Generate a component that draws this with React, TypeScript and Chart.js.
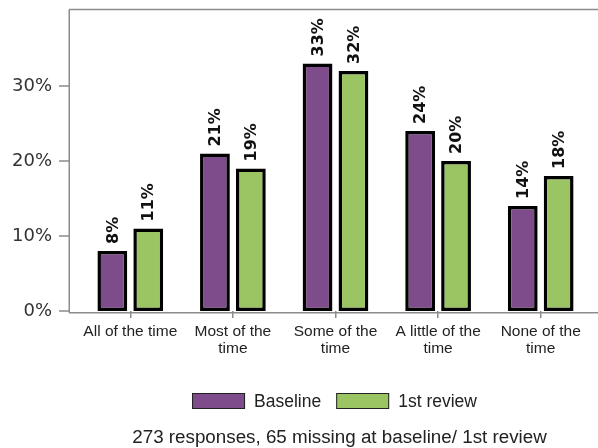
import React, { useEffect, useRef } from 'react';
import { Chart, registerables } from 'chart.js';

Chart.register(...registerables);

const categories: string[][] = [
  ['All of the time'],
  ['Most of the', 'time'],
  ['Some of the', 'time'],
  ['A little of the', 'time'],
  ['None of the', 'time'],
];
const seriesNames = ['Baseline', '1st review'];
const baselineValues = [8, 21, 33, 24, 14];
const firstReviewValues = [11, 19, 32, 20, 18];
const yTickValues = [0, 10, 20, 30];
const yMax = 40;
const footnote = '273 responses, 65 missing at baseline/ 1st review';

const PURPLE = '#7e4c8a';
const GREEN = '#9bc462';
const AXIS = '#8c8c8c';

const W = 598;
const H = 448;

const framePlugin = {
  id: 'frame',
  afterDatasetsDraw(chart: any) {
    const { ctx, chartArea, scales } = chart;
    const left = 69;
    ctx.save();
    ctx.strokeStyle = AXIS;
    ctx.lineWidth = 1.5;
    ctx.beginPath();
    ctx.moveTo(left + 0.25, chartArea.top - 1.5);
    ctx.lineTo(left + 0.25, chartArea.bottom + 1.75);
    ctx.moveTo(left, chartArea.top - 1.5);
    ctx.lineTo(W, chartArea.top - 1.5);
    ctx.moveTo(left, chartArea.bottom + 1.75);
    ctx.lineTo(W, chartArea.bottom + 1.75);
    yTickValues.forEach((v) => {
      const y = scales.y.getPixelForValue(v);
      ctx.moveTo(left - 10, y);
      ctx.lineTo(left, y);
    });
    ctx.stroke();

    // data labels
    chart.data.datasets.forEach((ds: any, di: number) => {
      const meta = chart.getDatasetMeta(di);
      meta.data.forEach((el: any, i: number) => {
        ctx.save();
        ctx.translate(el.x, el.y - 7);
        ctx.rotate(-Math.PI / 2);
        ctx.textAlign = 'left';
        ctx.textBaseline = 'middle';
        ctx.font = 'bold 16px "DejaVu Sans"';
        ctx.fillStyle = '#111';
        ctx.fillText(ds.data[i] + '%', 0, 1);
        ctx.restore();
      });
    });

    // legend
    const cx = (chartArea.left + chartArea.right) / 2;
    ctx.font = '17.5px "Liberation Sans"';
    const boxW = 53;
    const boxH = 16;
    const gapBoxText = 9;
    const gapItems = 15;
    const widths = chart.data.datasets.map((ds: any) => ctx.measureText(ds.label).width);
    let total = 0;
    widths.forEach((w: number, i: number) => {
      total += boxW + gapBoxText + w + (i > 0 ? gapItems : 0);
    });
    let x = cx - total / 2 - 1;
    const boxTop = 393;
    chart.data.datasets.forEach((ds: any, i: number) => {
      ctx.fillStyle = ds.backgroundColor;
      ctx.fillRect(x, boxTop, boxW, boxH);
      ctx.strokeStyle = '#222';
      ctx.lineWidth = 1;
      ctx.strokeRect(x + 0.5, boxTop + 0.5, boxW - 1, boxH - 1);
      ctx.fillStyle = '#222';
      ctx.textAlign = 'left';
      ctx.textBaseline = 'alphabetic';
      ctx.fillText(ds.label, x + boxW + gapBoxText, 407);
      x += boxW + gapBoxText + widths[i] + gapItems;
    });

    // footnote
    ctx.font = '18.8px "Liberation Sans"';
    ctx.fillStyle = '#222';
    ctx.textAlign = 'center';
    ctx.fillText(footnote, cx + 4, 443);
    ctx.restore();
  },
};

export default function App() {
  const ref = useRef<HTMLCanvasElement | null>(null);

  useEffect(() => {
    document.body.style.margin = '0';
    const canvas = ref.current;
    if (!canvas) return;
    const chart = new Chart(canvas, {
      type: 'bar',
      data: {
        labels: categories,
        datasets: [
          {
            label: seriesNames[0],
            data: baselineValues,
            backgroundColor: PURPLE,
            borderColor: '#000',
            borderWidth: 3.5,
            borderSkipped: false,
            categoryPercentage: 0.7,
            barPercentage: 0.83,
          },
          {
            label: seriesNames[1],
            data: firstReviewValues,
            backgroundColor: GREEN,
            borderColor: '#000',
            borderWidth: 3.5,
            borderSkipped: false,
            categoryPercentage: 0.7,
            barPercentage: 0.83,
          },
        ],
      },
      options: {
        animation: false,
        responsive: false,
        maintainAspectRatio: false,
        devicePixelRatio: 1,
        layout: { padding: { top: 11, right: 6, left: 0, bottom: 0 } },
        plugins: {
          legend: { display: false },
          title: { display: false },
          tooltip: { enabled: false },
        },
        scales: {
          x: {
            offset: true,
            grid: {
              display: true,
              drawOnChartArea: false,
              drawTicks: true,
              tickLength: 7,
              offset: false,
              color: AXIS,
              lineWidth: 1.5,
            },
            border: { display: false },
            ticks: {
              font: { family: '"Liberation Sans"', size: 15.5, lineHeight: 1.12 },
              color: '#222',
              padding: 5,
              maxRotation: 0,
              autoSkip: false,
            },
            afterFit: (scale: any) => {
              scale.height = H - 311;
              scale.paddingLeft = 0;
              scale.paddingRight = 0;
            },
          },
          y: {
            min: 0,
            max: yMax,
            grid: { display: false, drawTicks: false },
            border: { display: false },
            ticks: {
              font: { family: '"DejaVu Sans"', size: 18 },
              color: '#333',
              padding: 27,
              callback: (v: any) => v + '%',
            },
            afterBuildTicks: (scale: any) => {
              scale.ticks = yTickValues.map((v) => ({ value: v }));
            },
            afterFit: (scale: any) => {
              scale.width = 79;
              scale.paddingTop = 0;
              scale.paddingBottom = 0;
            },
          },
        },
      },
      plugins: [framePlugin],
    });
    return () => chart.destroy();
  }, []);

  return (
    <div style={{ width: W, height: H, overflow: 'hidden', background: '#fff' }}>
      <canvas ref={ref} width={W} height={H} style={{ width: W, height: H, display: 'block' }} />
    </div>
  );
}
